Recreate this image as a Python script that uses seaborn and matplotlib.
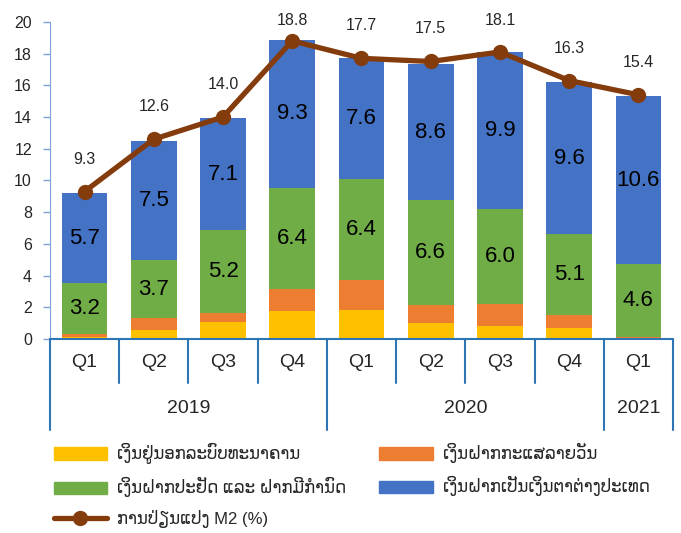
import numpy as np
import pandas as pd
import matplotlib
matplotlib.use("Agg")
import matplotlib.pyplot as plt
import seaborn as sns
from matplotlib.patches import Patch
from matplotlib.lines import Line2D

# Data
quarters = ["Q1", "Q2", "Q3", "Q4", "Q1", "Q2", "Q3", "Q4", "Q1"]
years = ["2019", "2020", "2021"]
year_counts = [4, 4, 1]
currency_outside = [0.15, 0.55, 1.05, 1.75, 1.85, 1.0, 0.8, 0.7, 0.05]
demand_dep = [0.15, 0.75, 0.6, 1.4, 1.85, 1.15, 1.4, 0.8, 0.05]
saving_fixed = [3.2, 3.7, 5.2, 6.4, 6.4, 6.6, 6.0, 5.1, 4.6]
foreign_dep = [5.7, 7.5, 7.1, 9.3, 7.6, 8.6, 9.9, 9.6, 10.6]
m2_change = [9.3, 12.6, 14.0, 18.8, 17.7, 17.5, 18.1, 16.3, 15.4]

names = ["ເງິນຢູ່ນອກລະບົບທະນາຄານ", "ເງິນຝາກກະແສລາຍວັນ",
         "ເງິນຝາກປະຢັດ ແລະ ຝາກມີກຳນົດ", "ເງິນຝາກເປັນເງິນຕາຕ່າງປະເທດ"]
line_name = "ການປ່ຽນແປງ M2 (%)"
colors = ["#FFC000", "#ED7D31", "#70AD47", "#4472C4"]
line_color = "#843C0C"

sns.set_style("white")
plt.rcParams["font.family"] = ["Liberation Sans", "DejaVu Sans"]

periods = [f"p{i}" for i in range(len(quarters))]
df = pd.DataFrame({"period": periods, "s0": currency_outside, "s1": demand_dep,
                   "s2": saving_fixed, "s3": foreign_dep, "m2": m2_change})

fig = plt.figure(figsize=(6.81, 5.33), dpi=100)
ax = fig.add_axes([0.0734, 0.364, 0.9148, 0.595])

bottom = np.zeros(len(df))
cols = ["s0", "s1", "s2", "s3"]
for k, (c, col) in enumerate(zip(cols, colors)):
    sns.barplot(data=df, x="period", y=c, color=col, saturation=1, width=0.66,
                bottom=bottom.copy(), errorbar=None, ax=ax, linewidth=0)
    if k >= 2:
        for i, v in enumerate(df[c]):
            ax.text(i, bottom[i] + v / 2, f"{v:.1f}", ha="center", va="center",
                    fontsize=16, color="black")
    bottom += df[c].values

idx = np.arange(len(df))
sns.lineplot(x=idx, y=df["m2"], color=line_color, linewidth=3.8, marker="o",
             markersize=11, markeredgewidth=0, sort=False, ax=ax, legend=False)
for i, v in enumerate(df["m2"]):
    ax.text(i, min(v + 2.05, 20.1), f"{v:.1f}", ha="center", va="center",
            fontsize=11.5, clip_on=False)

ax.set_xlim(-0.5, len(df) - 0.5)
ax.set_ylim(0, 20)
ax.set_yticks(range(0, 21, 2))
ax.set_xticks([])
ax.set_xlabel("")
ax.set_ylabel("")
ax.tick_params(axis="y", labelsize=11.5, length=5, width=1, color="#7FA3D8",
               direction="out", pad=8, left=True)
for s in ["top", "right"]:
    ax.spines[s].set_visible(False)
ax.spines["left"].set_color("#7FA3D8")
ax.spines["bottom"].set_color("#2E75B6")
ax.spines["bottom"].set_linewidth(1.5)

# two-level category axis
trans = ax.get_xaxis_transform()
for i, q in enumerate(quarters):
    ax.text(i, -0.073, q, transform=trans, ha="center", va="center", fontsize=14)
starts = np.cumsum([0] + year_counts)
for j, y in enumerate(years):
    ax.text((starts[j] + starts[j + 1] - 1) / 2, -0.218, y, transform=trans,
            ha="center", va="center", fontsize=14)
year_edges = set(starts.tolist())
for b in range(len(df) + 1):
    low = -0.287 if b in year_edges else -0.139
    ax.plot([b - 0.5, b - 0.5], [0, low], transform=trans, color="#2E75B6",
            lw=1.5, clip_on=False)

handles = [Patch(color=colors[0], label=names[0]),
           Patch(color=colors[2], label=names[2]),
           Line2D([], [], color=line_color, lw=3.8, marker="o", markersize=10,
                  label=line_name),
           Patch(color=colors[1], label=names[1]),
           Patch(color=colors[3], label=names[3])]
fig.legend(handles=handles, ncol=2, loc="upper left",
           bbox_to_anchor=(0.069, 0.181), frameon=False, fontsize=12,
           handlelength=3.2, handleheight=0.75, handletextpad=0.6,
           columnspacing=2.0, labelspacing=0.78, borderaxespad=0)

plt.savefig("out.png", dpi=100)
